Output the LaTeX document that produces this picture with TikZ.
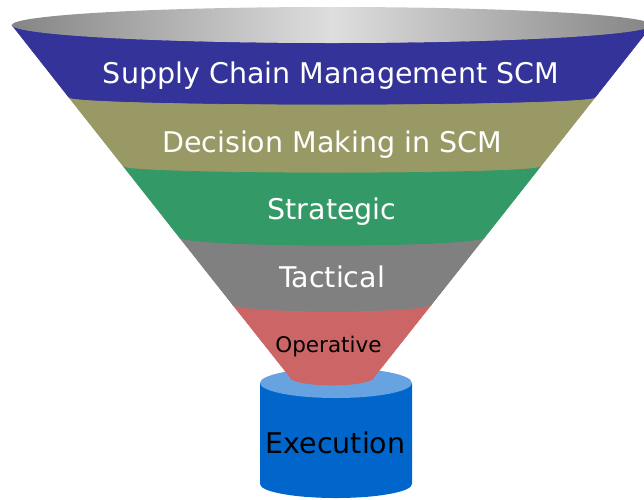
\documentclass[tikz,border=0pt]{standalone}
\usepackage{fontspec}
\setmainfont{DejaVu Sans}
\definecolor{cblue}{HTML}{333399}
\definecolor{colive}{HTML}{999966}
\definecolor{cgreen}{HTML}{339966}
\definecolor{cgray}{HTML}{808080}
\definecolor{cred}{HTML}{CC6666}
\definecolor{cylbody}{HTML}{0066CC}
\definecolor{cyltop}{HTML}{66A3E0}
\definecolor{topdark}{HTML}{858585}
\definecolor{toplight}{HTML}{DEDEDE}
\tikzset{
  lbl/.style={anchor=base, inner sep=0pt, font=\fontsize{28.5}{30}\selectfont, text=white},
  lbldark/.style={lbl, text=black},
}
% band: #1 top y, #2 top half width, #3 top ry, #4 bottom y, #5 bottom half width, #6 bottom ry, #7 colour
\newcommand{\funnelband}[7]{%
  \filldraw[fill=#7,draw=#7,line width=0.7pt,line join=round] (332-#2,-#1) arc[start angle=180,end angle=360,x radius=#2pt,y radius=#3pt]
    -- (332+#5,-#4) arc[start angle=0,end angle=-180,x radius=#5pt,y radius=#6pt] -- cycle;}
\begin{document}
\begin{tikzpicture}[x=1pt,y=1pt]
\useasboundingbox (0,-499) rectangle (644,0);
% cylinder
\fill[cylbody] (260,-383) -- (260,-484) arc[start angle=180,end angle=360,x radius=76pt,y radius=14pt] -- (412,-383) -- cycle;
\fill[cyltop] (336,-383) ellipse[x radius=76pt,y radius=15pt];
% funnel bands
\funnelband{25}{320}{18}{98}{262.5}{7}{cblue}
\funnelband{98}{262.5}{7}{167}{208}{6}{colive}
\funnelband{167}{208}{6}{238}{152}{8}{cgreen}
\funnelband{238}{152}{8}{305}{99}{7}{cgray}
\funnelband{305}{99}{7}{377}{42}{8}{cred}
% top opening
\shade[left color=topdark,right color=topdark,middle color=toplight] (332,-25) ellipse[x radius=320pt,y radius=18pt];
% labels
\node[lbl] (scm) at (331,-83) {Supply Chain Management SCM};
\node[lbl] (dec) at (332,-152) {Decision Making in SCM};
\node[lbl] (str) at (332,-219) {Strategic};
\node[lbl] (tac) at (332,-287) {Tactical};
\node[lbldark, font=\fontsize{21.5}{23}\selectfont] (ope) at (328.5,-352) {Operative};
\node[lbldark] (exe) at (335.5,-453) {Execution};
\end{tikzpicture}
\end{document}
